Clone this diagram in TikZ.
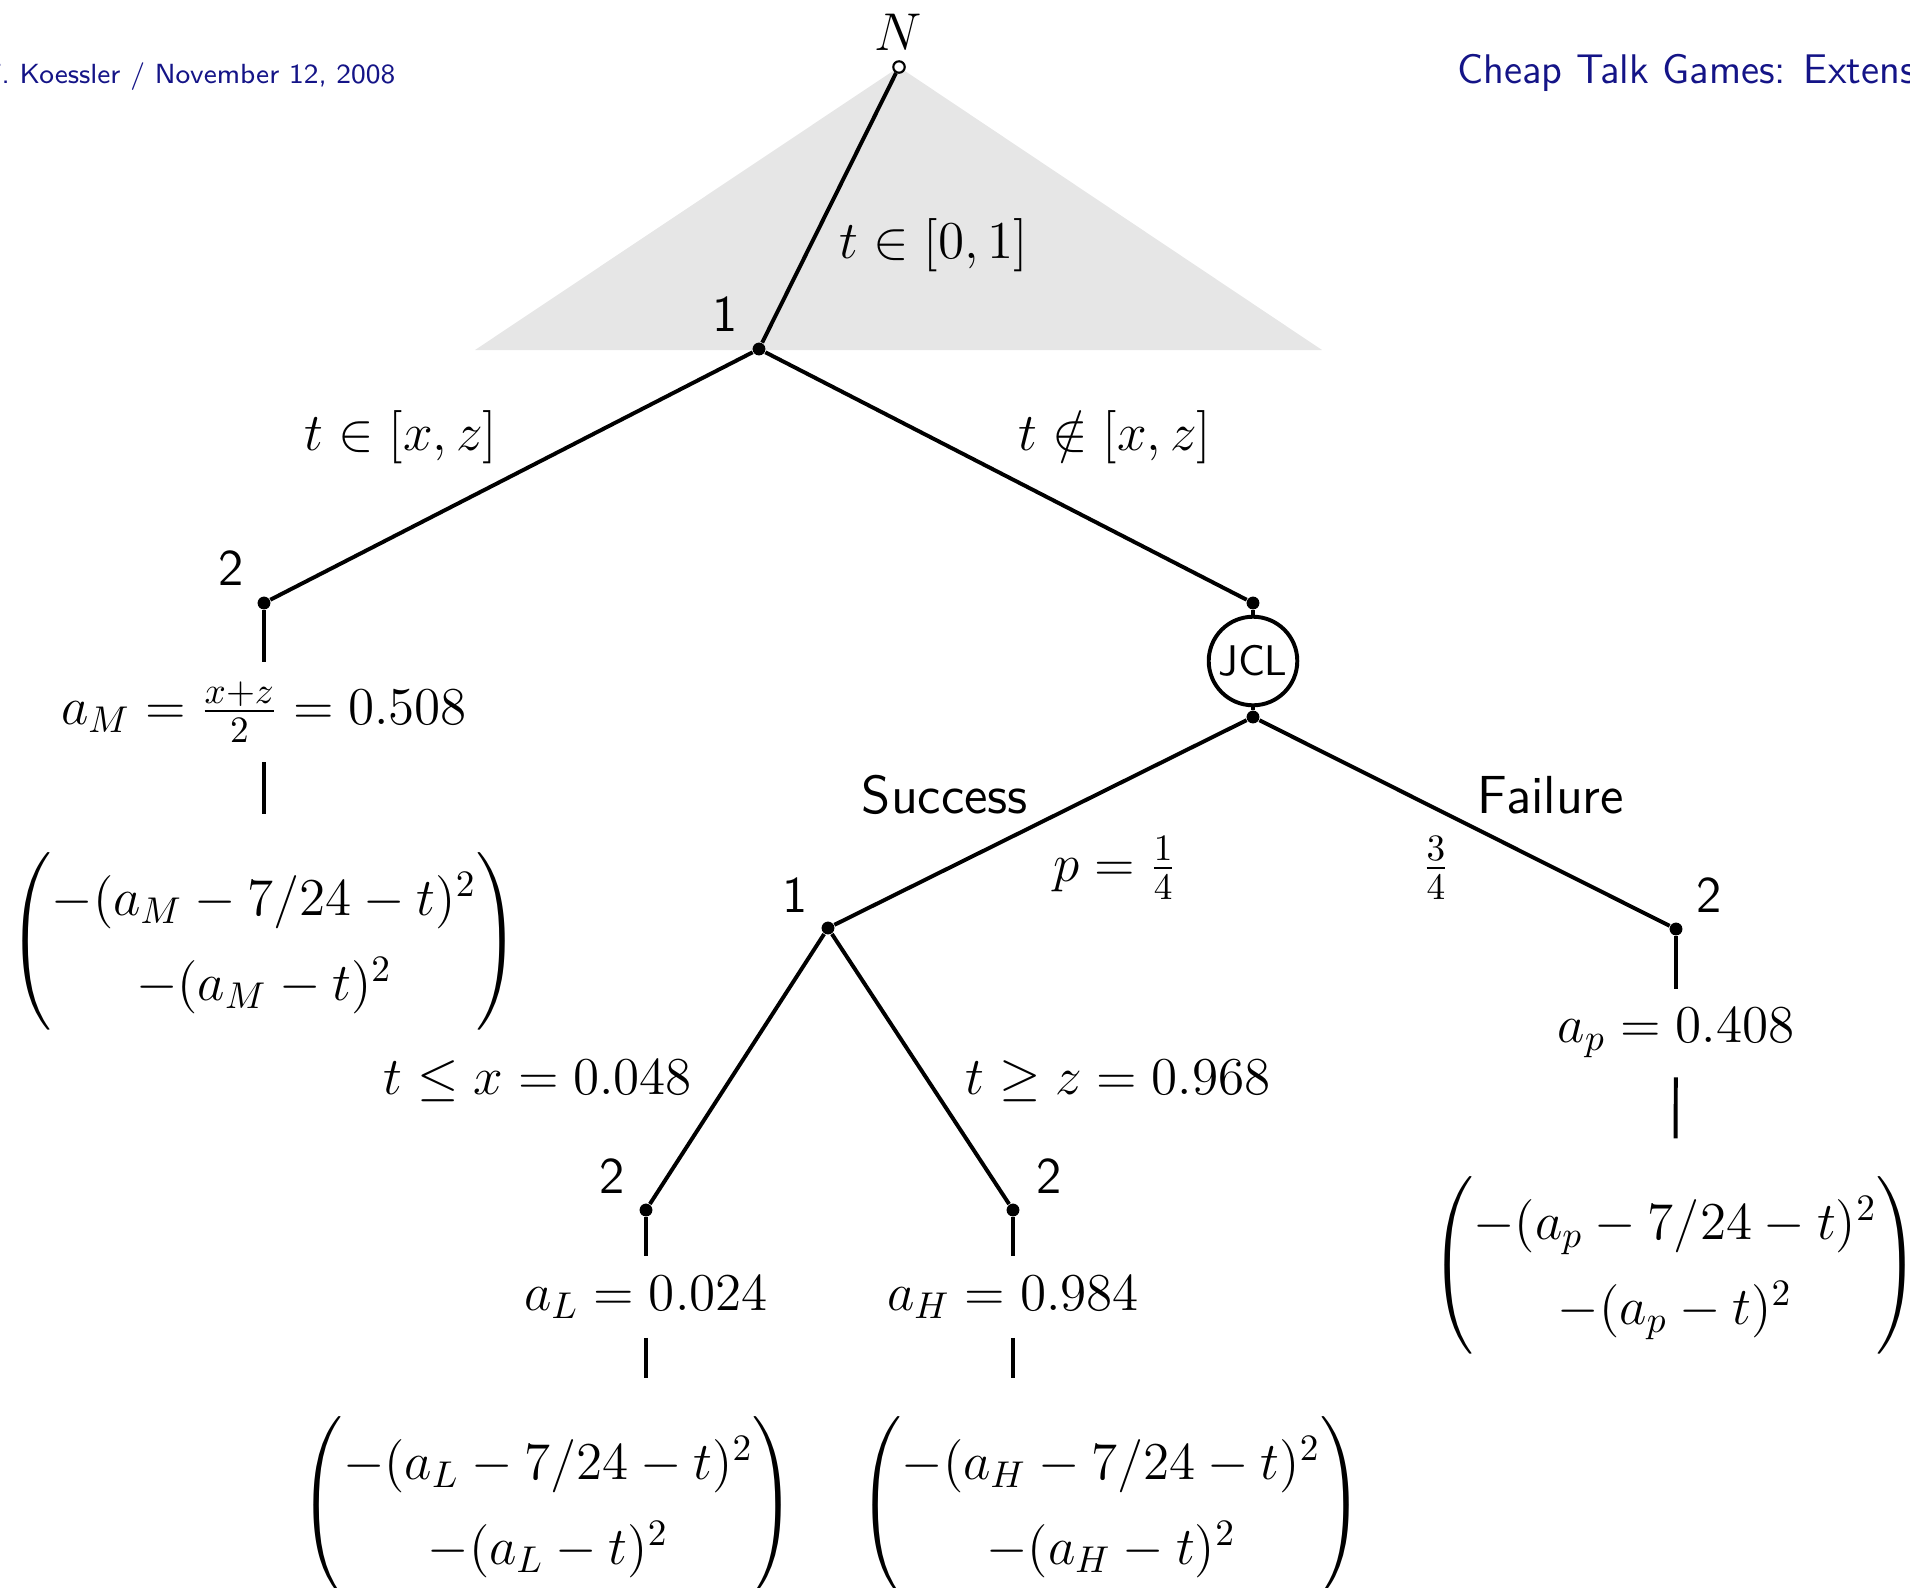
\RequirePackage{fix-cm}
\documentclass[tikz,border=0pt]{standalone}
\usepackage{amsmath, amssymb}
\usepackage{xcolor}
\usepackage{tikz}
\usetikzlibrary{positioning, calc}
\DeclareFontShape{OMX}{cmex}{m}{n}{<-> s * [0.926] cmex10}{}
\definecolor{slideblue}{RGB}{20, 20, 135}
\definecolor{typegray}{RGB}{230, 230, 230}

\tikzset{
    edge/.style={line width=1.1pt},
    dec/.style={circle, fill=black, inner sep=0pt, minimum size=3.6pt},
    chance/.style={circle, draw=black, fill=white, line width=0.6pt, inner sep=0pt, minimum size=3.2pt},
    jcl/.style={circle, draw=black, line width=1.1pt, inner sep=0pt, minimum size=24.8pt,
                font=\sffamily\fontsize{12}{14}\selectfont},
    plr/.style={font=\sffamily\fontsize{14.4}{17}\selectfont},
    chc/.style={font=\sffamily\fontsize{15}{17}\selectfont},
    lbl/.style={font=\fontsize{14.9}{17}\selectfont},
    act/.style={lbl, inner sep=0pt, outer sep=5.5pt},
    pay/.style={lbl, inner sep=0pt},
}
\newcommand{\payvec}[1]{\renewcommand{\arraystretch}{1.4}%
    $\left(\begin{matrix}-(a_{#1}-7/24-t)^2\\ -(a_{#1}-t)^2\end{matrix}\vphantom{\rule[-21.5pt]{0pt}{50.5pt}}\right)$}

\begin{document}
\begin{tikzpicture}[x=0.28pt, y=-0.28pt]
    \useasboundingbox (0,0) rectangle (1910,1587);
    \clip (0,0) rectangle (1910,1587);

    % Slide header
    \node[font=\sffamily\fontsize{7.75}{9}\selectfont, text=slideblue, anchor=base east, inner sep=0pt] (hdl) at (396,83) {F. Koessler / November 12, 2008};
    \node[font=\sffamily\fontsize{11.6}{14}\selectfont, text=slideblue, anchor=base west, inner sep=0pt] (hdr) at (1457,83) {Cheap Talk Games: Extens};

    % Shaded type space
    \fill[typegray] (899,67) -- (475,350) -- (1322,350) -- cycle;

    % Tree nodes
    \node[chance] (nat) at (899,67) {};
    \node[dec] (d1) at (759,349) {};
    \node[dec] (d2m) at (264,603) {};
    \node[dec] (dj) at (1253,603) {};
    \node[jcl] (jc) at (1253,661) {JCL};
    \node[dec] (dk) at (1253,717) {};
    \node[dec] (d1s) at (828,928) {};
    \node[dec] (d2p) at (1676,929) {};
    \node[dec] (d2l) at (646,1210) {};
    \node[dec] (d2h) at (1013,1210) {};

    % Player labels
    \node[lbl] (pn) at (898,32) {$N$};
    \node[plr] (p1) at (725,314) {1};
    \node[plr] (p2m) at (231,568) {2};
    \node[plr] (p1s) at (795,895) {1};
    \node[plr] (p2p) at (1709,895) {2};
    \node[plr] (p2l) at (612,1176) {2};
    \node[plr] (p2h) at (1049,1176) {2};

    % Branches
    \draw[edge] (nat) -- (d1);
    \draw[edge] (d1) -- (d2m);
    \draw[edge] (d1) -- (dj);
    \draw[edge] (dj) -- (jc);
    \draw[edge] (jc) -- (dk);
    \draw[edge] (dk) -- (d1s);
    \draw[edge] (dk) -- (d2p);
    \draw[edge] (d1s) -- (d2l);
    \draw[edge] (d1s) -- (d2h);

    % Branch labels
    \node[lbl] (e01) at (934,245) {$t \in [0,1]$};
    \node[lbl] (exz) at (401,437) {$t \in [x,z]$};
    \node[lbl] (enxz) at (1115,437) {$t \notin [x,z]$};
    \node[chc] (esc) at (945,795) {Success};
    \node[chc] (efl) at (1551,795) {Failure};
    \node[lbl] (epr) at (1115,868) {$p = \frac{1}{4}$};
    \node[lbl] (eqr) at (1436,868) {$\frac{3}{4}$};
    \node[lbl] (elo) at (538,1081) {$t \leq x = 0.048$};
    \node[lbl] (ehi) at (1118,1081) {$t \geq z = 0.968$};

    % Actions of player 2 and payoffs
    \node[act] (aM) at (264,712) {$a_M = \frac{x+z}{2} = 0.508$};
    \node[act] (ap) at (1676,1033) {$a_p = 0.408$};
    \node[act] (aL) at (646,1297) {$a_L = 0.024$};
    \node[act] (aH) at (1013,1297) {$a_H = 0.984$};
    \node[pay] (uM) at (264,941) {\payvec{M}};
    \node[pay] (up) at (1675,1265) {\payvec{p}};
    \node[pay] (uL) at (548,1505) {\payvec{L}};
    \node[pay] (uH) at (1111,1505) {\payvec{H}};

    \draw[edge] (d2m) -- (aM);
    \draw[edge, shorten >=10pt] (aM) -- (uM);
    \draw[edge] (d2p) -- (ap);
    \draw[edge, shorten >=10pt] (ap) -- (up);
    \draw[edge] (d2l) -- (aL);
    \draw[edge, shorten >=10pt] (aL) -- (aL |- uL.north);
    \draw[edge] (d2h) -- (aH);
    \draw[edge, shorten >=10pt] (aH) -- (aH |- uH.north);
\end{tikzpicture}
\end{document}
